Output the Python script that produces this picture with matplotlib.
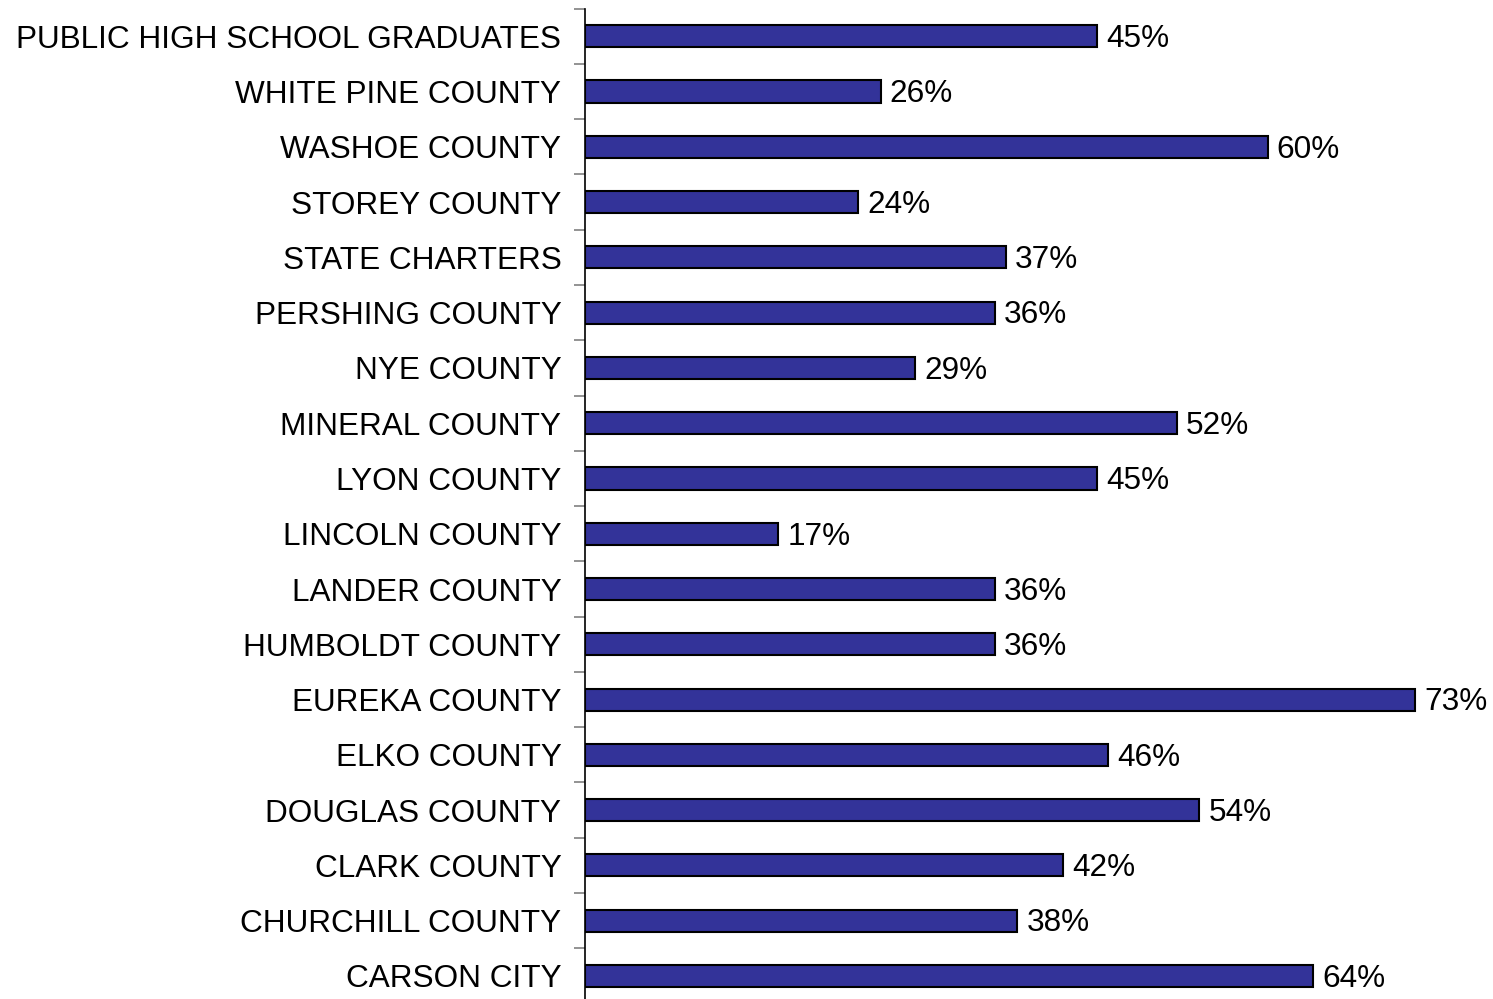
import matplotlib
matplotlib.use("Agg")
import matplotlib.pyplot as plt

plt.rcParams["font.family"] = ["Liberation Sans", "DejaVu Sans"]

districts = [
    "CARSON CITY", "CHURCHILL COUNTY", "CLARK COUNTY", "DOUGLAS COUNTY",
    "ELKO COUNTY", "EUREKA COUNTY", "HUMBOLDT COUNTY", "LANDER COUNTY",
    "LINCOLN COUNTY", "LYON COUNTY", "MINERAL COUNTY", "NYE COUNTY",
    "PERSHING COUNTY", "STATE CHARTERS", "STOREY COUNTY", "WASHOE COUNTY",
    "WHITE PINE COUNTY", "PUBLIC HIGH SCHOOL GRADUATES",
]
pct = [64, 38, 42, 54, 46, 73, 36, 36, 17, 45, 52, 29, 36, 37, 24, 60, 26, 45]

W, H = 1493, 999
fig = plt.figure(figsize=(W / 100, H / 100), dpi=100)
ax = fig.add_axes([585 / W, -4.6 / H, 910 / W, 995 / H])

y = range(len(districts))
ax.barh(y, pct, height=0.4, color="#333399", edgecolor="black", linewidth=1.5)
for yi, v in zip(y, pct):
    ax.text(v + 0.8, yi - 0.05, f"{v}%", va="center", ha="left", fontsize=22.7)

ax.set_xlim(0, 80)
ax.set_ylim(-0.5, len(districts) - 0.5)
# boundary ticks between categories, names on minor ticks at bar centres
ax.set_yticks([i - 0.5 for i in range(len(districts) + 1)], minor=False)
ax.set_yticklabels([])
ax.set_yticks(list(y), minor=True)
ax.set_yticklabels(districts, minor=True, fontsize=22.7)
ax.tick_params(axis="y", which="major", length=8, color="#808080", width=1.2)
ax.tick_params(axis="y", which="minor", length=0, pad=17)
ax.set_xticks([])
for s in ["top", "right", "bottom"]:
    ax.spines[s].set_visible(False)
ax.spines["left"].set_linewidth(1.2)

fig.savefig("out.png", dpi=100)
